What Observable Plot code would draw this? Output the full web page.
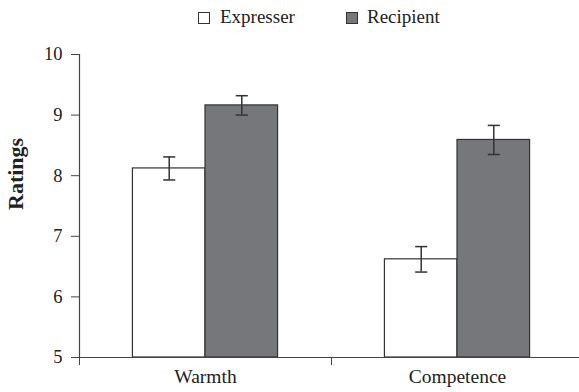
<!DOCTYPE html>
<html>
<head>
<meta charset="utf-8">
<script src="https://cdn.jsdelivr.net/npm/d3@7"></script>
<script src="https://cdn.jsdelivr.net/npm/@observablehq/plot@0.6"></script>
<style>
  body { margin: 0; background: #fff; }
  #wrap { position: relative; width: 579px; height: 392px; font-family: 'Liberation Serif', serif; }
  .sw { position: absolute; top: 12px; width: 10px; height: 10px; border: 1px solid #333; }
  .lt { position: absolute; top: 7px; font-size: 19px; line-height: 1; color: #222; white-space: nowrap; font-family: 'Liberation Serif', serif; }
  svg { position: absolute; top: 0; left: 0; }
  svg text, svg { font-family: 'Liberation Serif', serif !important; }
</style>
</head>
<body>
<div id="wrap"></div>
<script>
const categories = ["Warmth", "Competence"];
const groups = ["Expresser", "Recipient"];
const expresser = [8.12, 6.62];
const recipient = [9.16, 8.59];
const expresserErr = [0.19, 0.21];
const recipientErr = [0.16, 0.24];
const yTicks = [5, 6, 7, 8, 9, 10];

const colors = {Expresser: "#ffffff", Recipient: "#76777b"};
const barW = 0.288;   // bar width as a fraction of a category band
const capHalf = 0.024;

const rows = [];
categories.forEach((c, i) => {
  [[groups[0], expresser[i], expresserErr[i]], [groups[1], recipient[i], recipientErr[i]]].forEach(([g, v, e], gi) => {
    const x1 = i + 0.5 + (gi - 1) * barW;
    rows.push({category: c, group: g, value: v, err: e, x1, x2: x1 + barW, xc: x1 + barW / 2});
  });
});

const plot = Plot.plot({
  width: 579,
  height: 392,
  marginLeft: 79,
  marginRight: 0,
  marginTop: 54,
  marginBottom: 35,
  style: {fontFamily: "'Liberation Serif', serif", fontSize: "18.5px", color: "#222", background: "transparent"},
  x: {type: "linear", domain: [0, 2], range: [79, 583]},
  y: {domain: [5, 10]},
  marks: [
    Plot.rectY(rows, {x1: "x1", x2: "x2", y1: 5, y2: "value", fill: d => colors[d.group], stroke: "#333", strokeWidth: 1.2}),
    Plot.ruleX(rows, {x: "xc", y1: d => d.value - d.err, y2: d => d.value + d.err, stroke: "#333", strokeWidth: 1.5}),
    Plot.link(rows, {x1: d => d.xc - capHalf, x2: d => d.xc + capHalf, y1: d => d.value + d.err, y2: d => d.value + d.err, stroke: "#333", strokeWidth: 1.5}),
    Plot.link(rows, {x1: d => d.xc - capHalf, x2: d => d.xc + capHalf, y1: d => d.value - d.err, y2: d => d.value - d.err, stroke: "#333", strokeWidth: 1.5}),
    Plot.axisY({ticks: yTicks, tickSize: 8, tickPadding: 9, tickFormat: "d", label: null, stroke: "#444", fontSize: 18.5}),
    Plot.axisX({ticks: [0, 1, 2], tickSize: 8, tickFormat: () => "", label: null, stroke: "#444"}),
    Plot.ruleX([0], {stroke: "#444", strokeWidth: 1.2}),
    Plot.ruleY([5], {stroke: "#444", strokeWidth: 1.2}),
    Plot.text(categories, {x: (d, i) => i + 0.5, frameAnchor: "bottom", dy: 25, text: d => d, fontSize: 19.5, fill: "#222"}),
    Plot.text(["Ratings"], {frameAnchor: "left", dx: -64, dy: 4, rotate: -90, fontWeight: "bold", fontSize: 22, fill: "#222"})
  ]
});
const wrap = document.getElementById("wrap");
wrap.appendChild(plot);

const legendPos = {Expresser: [198, 220], Recipient: [346, 367]};
groups.forEach(g => {
  const sw = document.createElement("div");
  sw.className = "sw";
  sw.style.left = legendPos[g][0] + "px";
  sw.style.background = colors[g];
  wrap.appendChild(sw);
  const t = document.createElement("span");
  t.className = "lt";
  t.style.left = legendPos[g][1] + "px";
  t.textContent = g;
  wrap.appendChild(t);
});
</script>
</body>
</html>
